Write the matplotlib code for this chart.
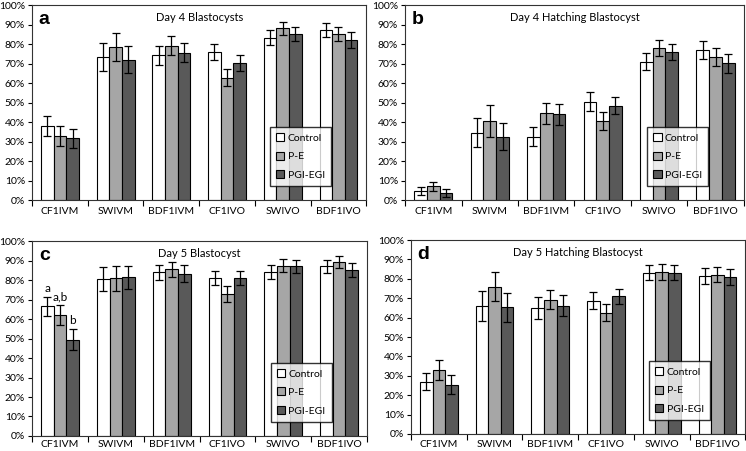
import matplotlib.pyplot as plt
import numpy as np

plt.rcParams['font.family'] = ['Lato', 'DejaVu Sans']

groups = ['CF1IVM', 'SWIVM', 'BDF1IVM', 'CF1IVO', 'SWIVO', 'BDF1IVO']
series = ['Control', 'P-E', 'PGI-EGI']
colors = ['white', '#a6a6a6', '#595959']

# a: Day 4 Blastocysts
a_vals = [[38.0, 73.4, 74.2, 76.0, 83.4, 87.2],
          [32.8, 78.5, 79.2, 62.8, 88.2, 85.3],
          [31.6, 72.0, 75.6, 70.3, 85.2, 82.0]]
a_err = [[5.0, 7.0, 5.0, 4.0, 3.8, 3.5],
         [5.0, 7.2, 5.0, 4.5, 3.3, 3.5],
         [5.0, 7.0, 5.0, 4.0, 3.5, 4.0]]
# b: Day 4 Hatching Blastocyst
b_vals = [[4.5, 34.5, 32.5, 50.5, 71.0, 77.0],
          [7.0, 40.5, 44.5, 40.5, 78.0, 73.5],
          [3.5, 32.5, 44.0, 48.5, 76.0, 70.2]]
b_err = [[2.0, 7.5, 5.0, 4.8, 4.5, 4.5],
         [2.5, 8.2, 5.5, 4.5, 4.0, 4.5],
         [2.0, 7.0, 5.5, 4.5, 4.0, 4.8]]
# c: Day 5 Blastocyst
c_vals = [[66.5, 80.5, 84.0, 81.0, 84.3, 87.0],
          [62.0, 81.0, 85.5, 73.0, 87.3, 89.3],
          [49.5, 81.5, 83.3, 81.0, 87.0, 85.3]]
c_err = [[5.0, 6.3, 4.0, 3.5, 3.5, 3.5],
         [5.0, 6.5, 4.0, 4.0, 3.3, 3.3],
         [5.3, 6.0, 4.3, 3.5, 3.5, 3.5]]
# d: Day 5 Hatching Blastocyst
d_vals = [[27.0, 66.0, 65.0, 68.8, 83.2, 81.5],
          [33.0, 76.0, 69.3, 62.6, 83.5, 82.2],
          [25.5, 65.3, 66.2, 71.0, 83.2, 81.0]]
d_err = [[4.5, 7.5, 5.5, 4.3, 4.0, 4.3],
         [5.0, 7.3, 5.0, 4.5, 4.0, 4.0],
         [5.0, 7.3, 5.5, 4.0, 4.0, 4.3]]

panels = [
    ('a', 'Day 4 Blastocysts', a_vals, a_err, [0.043, 0.5565, 0.448, 0.432], 5),
    ('b', 'Day 4 Hatching Blastocyst', b_vals, b_err, [0.543, 0.5565, 0.454, 0.432], 5),
    ('c', 'Day 5 Blastocyst', c_vals, c_err, [0.043, 0.0333, 0.449, 0.432], 3),
    ('d', 'Day 5 Hatching Blastocyst', d_vals, d_err, [0.551, 0.0377, 0.448, 0.430], 4),
]

fig = plt.figure(figsize=(7.46, 4.51), dpi=100)
x = np.arange(len(groups))
w = 0.226

for letter, title, vals, errs, rect, xpad in panels:
    ax = fig.add_axes(rect)
    for i in range(3):
        ax.bar(x + (i - 1) * w, vals[i], w, yerr=errs[i], color=colors[i],
               edgecolor='black', linewidth=0.8, label=series[i],
               error_kw=dict(ecolor='black', elinewidth=0.9, capsize=3, capthick=0.9))
    ax.set_xlim(-0.5, len(groups) - 0.5)
    ax.set_ylim(0, 100)
    ax.set_yticks(np.arange(0, 101, 10))
    ax.set_yticklabels([f'{v}%' for v in range(0, 101, 10)], fontsize=7.5)
    ax.set_xticks(np.arange(-0.5, len(groups), 1))
    ax.set_xticklabels([])
    ax.set_xticks(x, minor=True)
    ax.set_xticklabels(groups, minor=True, fontsize=7.5)
    ax.tick_params(axis='x', which='minor', length=0, pad=xpad)
    ax.tick_params(axis='x', which='major', length=4, direction='out', width=0.8)
    ax.tick_params(axis='y', length=3, direction='out', width=0.8, pad=2)
    for s in ax.spines.values():
        s.set_linewidth(0.8)
        s.set_color('#333333')
    ax.text(0.02, 0.97, letter, transform=ax.transAxes, fontsize=14,
            fontweight='bold', family=['Liberation Sans', 'DejaVu Sans'],
            va='top', ha='left')
    ax.text(0.5, 0.965, title, transform=ax.transAxes, fontsize=8,
            va='top', ha='center')
    ax.legend(loc='lower right', bbox_to_anchor=(0.91, 0.046), fontsize=7.5,
              frameon=True, fancybox=False, edgecolor='black',
              handlelength=0.8, handleheight=0.8, handletextpad=0.3,
              labelspacing=0.85, borderpad=0.6)
    if letter == 'c':
        sig = ['a', 'a,b', 'b']
        for i in range(3):
            ax.text(x[0] + (i - 1) * w, vals[i][0] + errs[i][0] + 1.5, sig[i],
                    ha='center', va='bottom', fontsize=8.5)

fig.savefig('out.png', dpi=100)
